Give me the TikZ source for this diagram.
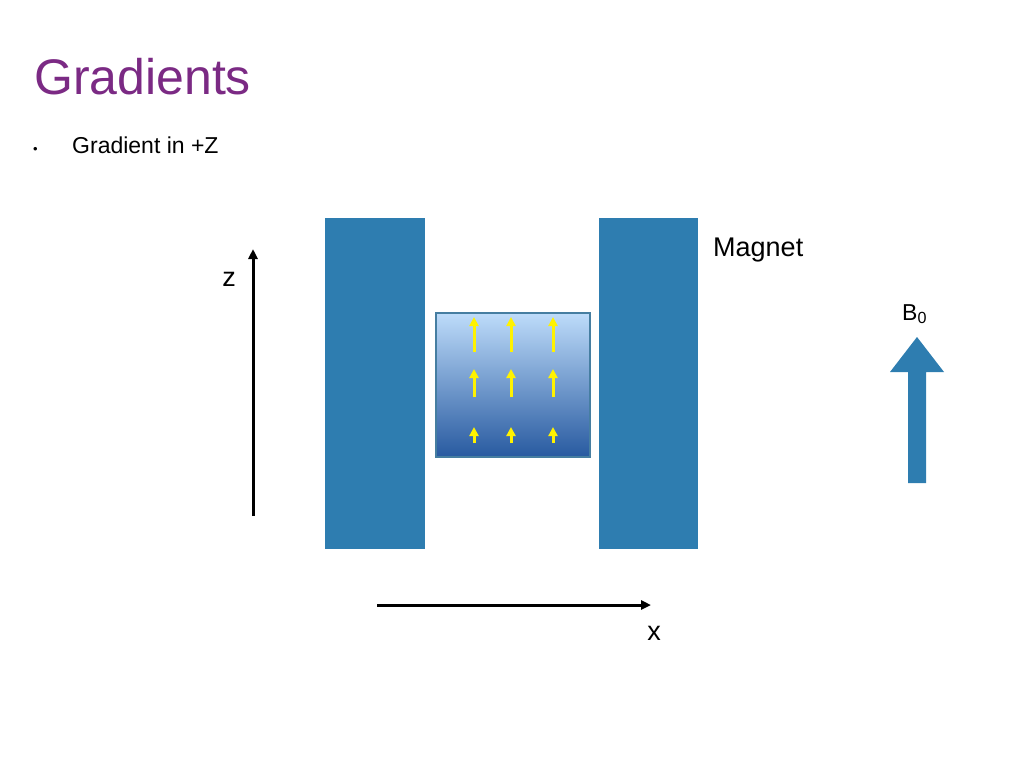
\documentclass[tikz,border=0pt]{standalone}
\usepackage{fontspec}
\setmainfont{Liberation Sans}
\usetikzlibrary{arrows.meta}
\definecolor{mag}{HTML}{2E7DB0}
\definecolor{ttl}{HTML}{7B2A84}
\begin{document}
\begin{tikzpicture}[x=1pt,y=-1pt,
  magnet/.style={fill=mag,draw=none},
  yarr/.style={draw=yellow,fill=yellow,line width=3pt,-{Triangle[width=9pt,length=9pt]}},
  axis/.style={line width=3pt,-{Triangle[width=9pt,length=10pt]}}]
\useasboundingbox (0,0) rectangle (1024,768);
\node[anchor=base west,text=ttl,font=\fontsize{50}{50}\selectfont,inner sep=0] (title) at (34,94) {Gradients};
\node[anchor=base west,font=\fontsize{13}{13}\selectfont,inner sep=0] (bul) at (33,153) {•};
\node[anchor=base west,font=\fontsize{23}{23}\selectfont,inner sep=0] (sub) at (72,153) {Gradient in +Z};
\fill[magnet] (325,218) rectangle (425,549);
\fill[magnet] (599,218) rectangle (698,549);
\node[draw=mag!70!gray,line width=1.5pt,minimum width=154pt,minimum height=144pt,anchor=north west,inner sep=0,
  top color={rgb,255:red,190;green,220;blue,250},bottom color={rgb,255:red,40;green,90;blue,160}] (box) at (435,312) {};
\foreach \x in {474,511,553}{
  \draw[yarr] (\x,352) -- (\x,317);
  \draw[yarr] (\x,397) -- (\x,369);
  \draw[yarr] (\x,443) -- (\x,427);
}
\coordinate (z0) at (253,516); \coordinate (z1) at (253,249);
\draw[axis] (z0) -- (z1);
\node[font=\fontsize{27}{27}\selectfont] (zl) at (229,279) {z};
\coordinate (x0) at (377,605); \coordinate (x1) at (651,605);
\draw[axis] (x0) -- (x1);
\node[font=\fontsize{27}{27}\selectfont] (xl) at (654,633) {x};
\node[anchor=base west,font=\fontsize{27}{27}\selectfont,inner sep=0] (mg) at (713,256) {Magnet};
\node[anchor=base west,font=\fontsize{23}{23}\selectfont,inner sep=0] (b0) at (902,320) {B\textsubscript{0}};
\fill[mag] (908,483) -- (908,372) -- (890,372) -- (917,337) -- (944,372) -- (926,372) -- (926,483) -- cycle;
\end{tikzpicture}
\end{document}
